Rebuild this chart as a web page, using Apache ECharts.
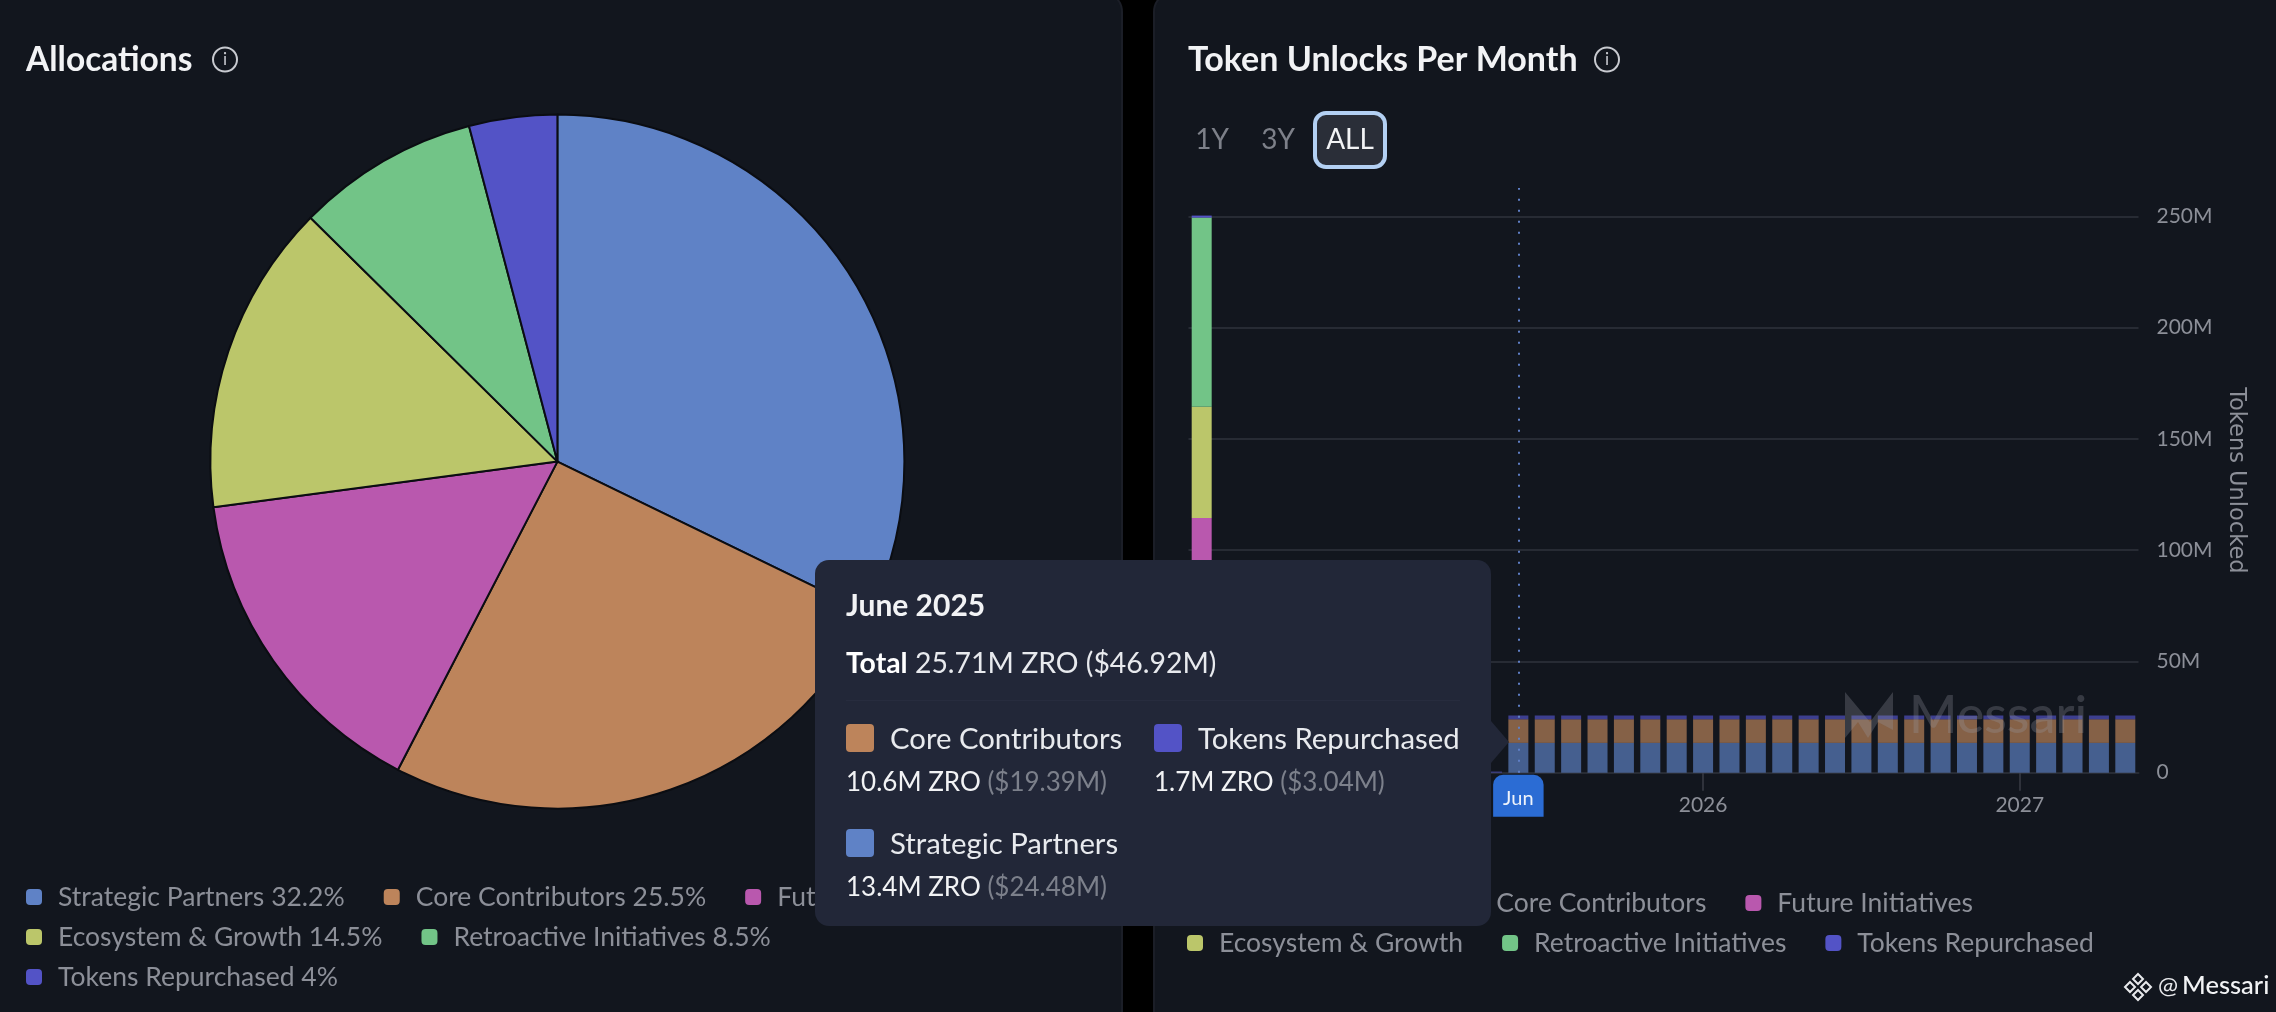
<!DOCTYPE html>
<html><head><meta charset="utf-8">
<style>html,body{margin:0;padding:0;background:#000;width:2276px;height:1012px;overflow:hidden}#c{width:2276px;height:1012px}</style>
<script src="https://cdn.jsdelivr.net/npm/echarts@6/dist/echarts.min.js"></script>
</head><body><div id="c"></div>
<script>
const FONT = 'Lato, "Open Sans", sans-serif';
const names = ['Strategic Partners','Core Contributors','Future Initiatives','Ecosystem & Growth','Retroactive Initiatives','Tokens Repurchased'];
const colors = ['#5f82c6','#bd845b','#b958ae','#bbc66a','#72c487','#5353c6'];
const shares = [32.2,25.4,15.3,14.5,8.5,4.1];
const shareLabels = ['32.2%','25.5%','15.3%','14.5%','8.5%','4%'];
const months = ['Jun 2024','Jul 2024','Aug 2024','Sep 2024','Oct 2024','Nov 2024','Dec 2024','Jan 2025','Feb 2025','Mar 2025','Apr 2025','May 2025','Jun 2025','Jul 2025','Aug 2025','Sep 2025','Oct 2025','Nov 2025','Dec 2025','Jan 2026','Feb 2026','Mar 2026','Apr 2026','May 2026','Jun 2026','Jul 2026','Aug 2026','Sep 2026','Oct 2026','Nov 2026','Dec 2026','Jan 2027','Feb 2027','Mar 2027','Apr 2027','May 2027'];
const strategic = [0,0,0,0,0,0,0,0,0,0,0,0,13.4,13.4,13.4,13.4,13.4,13.4,13.4,13.4,13.4,13.4,13.4,13.4,13.4,13.4,13.4,13.4,13.4,13.4,13.4,13.4,13.4,13.4,13.4,13.4];
const core = [0,0,0,0,0,0,0,0,0,0,0,0,10.6,10.6,10.6,10.6,10.6,10.6,10.6,10.6,10.6,10.6,10.6,10.6,10.6,10.6,10.6,10.6,10.6,10.6,10.6,10.6,10.6,10.6,10.6,10.6];
const future = [114.4,0,0,0,0,0,0,0,0,0,0,0,0,0,0,0,0,0,0,0,0,0,0,0,0,0,0,0,0,0,0,0,0,0,0,0];
const ecosystem = [50,0,0,0,0,0,0,0,0,0,0,0,0,0,0,0,0,0,0,0,0,0,0,0,0,0,0,0,0,0,0,0,0,0,0,0];
const retro = [85,0,0,0,0,0,0,0,0,0,0,0,0,0,0,0,0,0,0,0,0,0,0,0,0,0,0,0,0,0,0,0,0,0,0,0];
const repurchased = [0.9,0,0,0,0,0,0,0,0,0,0,0.5,1.7,1.7,1.7,1.7,1.7,1.7,1.7,1.7,1.7,1.7,1.7,1.7,1.7,1.7,1.7,1.7,1.7,1.7,1.7,1.7,1.7,1.7,1.7,1.7];
const barValues = [strategic,core,future,ecosystem,retro,repurchased];
const tipTitle = 'June 2025';
const tipTotal = '25.71M ZRO ($46.92M)';
const tipRows = [
  {name:'Core Contributors', zro:'10.6M ZRO', usd:'($19.39M)', color:colors[1]},
  {name:'Tokens Repurchased', zro:'1.7M ZRO', usd:'($3.04M)', color:colors[5]},
  {name:'Strategic Partners', zro:'13.4M ZRO', usd:'($24.48M)', color:colors[0]}
];
const tipPos = [[31,161],[339,161],[31,266]];

const chart = echarts.init(document.getElementById('c'), null, {renderer:'canvas'});
const PANEL = '#12161e', LINE = '#272b34', MUTED = '#8c8f98';

function pieLegend(idx, top){
  return {left:26, top, padding:0, itemWidth:16, itemHeight:16, itemGap:39, icon:'roundRect', selectedMode:false,
    data: idx.map(i=>names[i]),
    formatter: n => n+' '+shareLabels[names.indexOf(n)],
    textStyle:{color:MUTED, fontFamily:FONT, fontSize:26.5, lineHeight:28, padding:[0,0,0,11]}};
}
function barLegend(idx, top){
  return {left:1187, top, padding:0, itemWidth:16, itemHeight:16, itemGap:39, icon:'roundRect', selectedMode:false,
    data: idx.map(i=>names[i]),
    textStyle:{color:MUTED, fontFamily:FONT, fontSize:26.5, lineHeight:28, padding:[0,0,0,11]}};
}
function txt(text,x,y,fill,size,weight,align){
  return {type:'text',z:20,style:{text,x,y,fill,fontFamily:FONT,fontSize:size,fontWeight:weight||400,textAlign:align||'left',textVerticalAlign:'middle'}};
}
function info(x,y){
  return [
    {type:'circle',z:20,shape:{cx:x,cy:y,r:12},style:{fill:'none',stroke:'#c8cad0',lineWidth:2}},
    {type:'text',z:20,style:{text:'i',x,y,fill:'#c8cad0',fontFamily:FONT,fontSize:17,textAlign:'center',textVerticalAlign:'middle'}}
  ];
}
const graphics = [
  {type:'rect',z:-10,shape:{x:-40,y:-8,width:1162,height:1060,r:20},style:{fill:PANEL,stroke:'#1b1e27',lineWidth:2}},
  {type:'rect',z:-10,shape:{x:1154,y:-8,width:1200,height:1060,r:20},style:{fill:PANEL,stroke:'#1b1e27',lineWidth:2}},
  txt('Allocations',26,60,'#f2f3f5',33.5,700),
  txt('Token Unlocks Per Month',1188,60,'#f2f3f5',34,700),
  ...info(225,59.5),...info(1607,59.5),
  txt('1Y',1212,140,'#7d8089',28,400,'center'),
  txt('3Y',1278,140,'#7d8089',28,400,'center'),
  {type:'rect',z:19,shape:{x:1315,y:113,width:70,height:54,r:11},style:{fill:'#2a2e38',stroke:'#b3d0f3',lineWidth:4}},
  txt('ALL',1350,140,'#f2f3f5',28,400,'center'),
  // watermark
  {type:'polygon',z:50,shape:{points:[[1845,692],[1870,722],[1893,692],[1893,730],[1878,722],[1868,738],[1858,722],[1845,738]]},style:{fill:'rgba(150,155,165,0.28)'}},
  {type:'text',z:50,style:{text:'Messari',x:1909,y:716,fill:'rgba(150,155,165,0.28)',fontFamily:FONT,fontSize:52,fontWeight:500,textVerticalAlign:'middle'}},
  // credit
  {type:'polygon',z:20,shape:{points:[[2138,974],[2143,979],[2138,984],[2133,979]]},style:{fill:'none',stroke:'#e8e9ec',lineWidth:2}},
  {type:'polygon',z:20,shape:{points:[[2138,990],[2143,995],[2138,1000],[2133,995]]},style:{fill:'none',stroke:'#e8e9ec',lineWidth:2}},
  {type:'polygon',z:20,shape:{points:[[2130,982],[2135,987],[2130,992],[2125,987]]},style:{fill:'none',stroke:'#e8e9ec',lineWidth:2}},
  {type:'polygon',z:20,shape:{points:[[2146,982],[2151,987],[2146,992],[2141,987]]},style:{fill:'none',stroke:'#e8e9ec',lineWidth:2}},
  txt('@',2158,986,'#e8e9ec',24,400),
  txt('Messari',2182,986,'#f2f3f5',25.5,500)
];

function dataFor(values){
  return values.map((v,i)=> i>=11 ? {value:v,itemStyle:{opacity:0.68}} : v);
}
const barSeries = names.map((n,i)=>({
  type:'bar', name:n, stack:'u', barWidth:20, data:dataFor(barValues[i]),
  itemStyle:{color:colors[i]}, emphasis:{disabled:true}, xAxisIndex:0, yAxisIndex:0
}));

chart.setOption({
  animation:false,
  backgroundColor:'#000',
  textStyle:{fontFamily:FONT},
  graphic:graphics,
  legend:[pieLegend([0,1,2],883),pieLegend([3,4],923),pieLegend([5],963),barLegend([0,1,2],889),barLegend([3,4,5],929)],
  grid:{left:1188.5,right:137.5,top:188,bottom:1012-772.7,containLabel:false},
  xAxis:{type:'category',data:months,boundaryGap:true,
    axisLine:{show:true,lineStyle:{color:LINE,width:2}},
    axisTick:{show:true,alignWithLabel:true,length:18,lineStyle:{color:'#3a3d46',width:1.5},interval:(i,v)=>v.startsWith('Jan')},
    axisLabel:{color:MUTED,fontFamily:FONT,fontSize:21,margin:22,interval:(i,v)=>v.startsWith('Jan'),formatter:v=>v.split(' ')[1]},
    splitLine:{show:false}},
  yAxis:{type:'value',position:'right',min:0,max:262.7,interval:50,
    name:'Tokens Unlocked',nameLocation:'middle',nameRotate:-90,nameGap:86,
    nameTextStyle:{color:MUTED,fontFamily:'"DejaVu Sans"',fontSize:22.5},
    axisLine:{show:false},axisTick:{show:false},
    axisLabel:{color:MUTED,fontFamily:FONT,fontSize:21,margin:18,padding:[3,0,0,0],showMaxLabel:false,formatter:v=>v===0?'0':v+'M'},
    splitLine:{show:true,showMaxLine:false,lineStyle:{color:LINE,width:2}}},
  tooltip:{trigger:'axis',alwaysShowContent:true,showContent:true,transitionDuration:0,padding:0,
    backgroundColor:'transparent',borderWidth:0,
    extraCssText:'box-shadow:none;',
    position:()=>[815,560],
    axisPointer:{type:'line',axis:'x',lineStyle:{type:[2,9],color:'#5f7fc6',width:2},
      label:{show:true,backgroundColor:'#2b6cd4',color:'#eef3fb',fontFamily:FONT,fontSize:20,margin:2,padding:[14,10,8,10],borderRadius:[10,10,0,0],
        formatter:p=>String(p.value).split(' ')[0]}},
    formatter:()=>{
      const rows = tipRows.map((r,i)=>{
        const [x,y]=tipPos[i];
        return `<div style="position:absolute;left:${x}px;top:${y}px;white-space:nowrap;font-size:29.3px;line-height:34px;">
          <div style="display:flex;align-items:center;color:#e8eaee;"><span style="width:28px;height:28px;border-radius:4px;background:${r.color};display:inline-block;margin-right:16px;"></span>${r.name}</div>
          <div style="margin-top:9px;color:#f2f3f5;font-size:26px;">${r.zro} <span style="color:#7c808b;">${r.usd}</span></div></div>`;
      }).join('');
      return `<div style="position:relative;width:676px;height:366px;background:#222738;border-radius:14px;font-family:${FONT.replace(/"/g,"'")};color:#f2f3f5;">
        <div style="position:absolute;left:31px;top:27px;font-size:30px;line-height:34px;font-weight:700;white-space:nowrap;">${tipTitle}</div>
        <div style="position:absolute;left:31px;top:85px;font-size:28.4px;line-height:34px;white-space:nowrap;color:#e8eaee;"><b style="color:#fff;font-weight:700;">Total</b> ${tipTotal}</div>
        <div style="position:absolute;left:31px;right:31px;top:140px;height:1px;background:#272c3e;"></div>
        ${rows}
        <div style="position:absolute;left:676px;top:161px;width:0;height:0;border-top:21px solid transparent;border-bottom:21px solid transparent;border-left:18px solid #222738;"></div>
      </div>`;
    }},
  series:[
    {type:'pie',name:'Allocations',center:[557.4,461.6],radius:[0,347],startAngle:90,clockwise:true,
     silent:true,label:{show:false},labelLine:{show:false},tooltip:{show:false},
     itemStyle:{borderColor:'#0b0d12',borderWidth:2},
     data:names.map((n,i)=>({name:n,value:shares[i],itemStyle:{color:colors[i]}}))},
    ...barSeries
  ]
});
chart.dispatchAction({type:'showTip',seriesIndex:1,dataIndex:12});
</script></body></html>
